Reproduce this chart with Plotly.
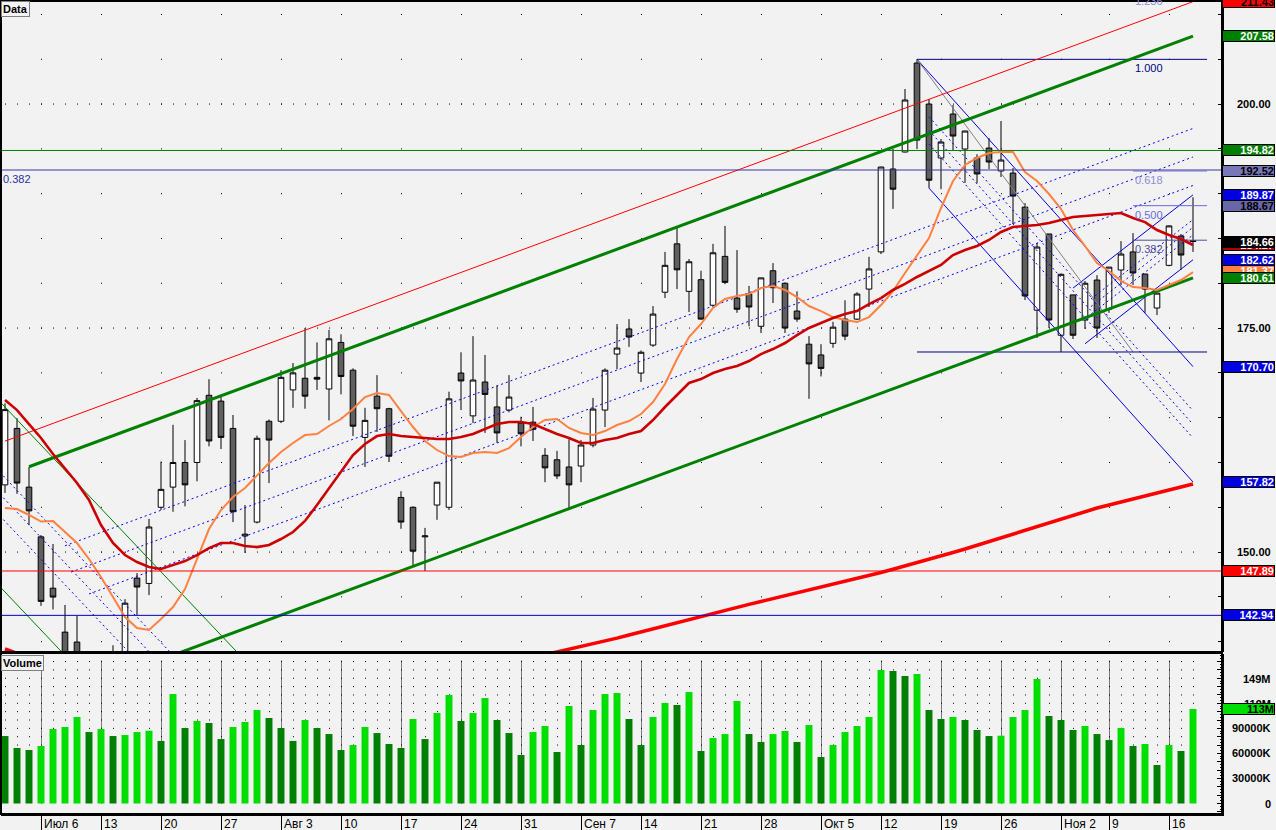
import plotly.graph_objects as go

# ---------------- data ----------------
week_idx = [3, 8, 13, 18, 23, 28, 33, 38, 43, 48, 53, 58, 63, 68, 73, 78, 83, 88, 92, 97]
week_labels = ['Июл 6', '13', '20', '27', 'Авг 3', '10', '17', '24', '31', 'Сен 7',
               '14', '21', '28', 'Окт 5', '12', '19', '26', 'Ноя 2', '9', '16']

opens = [157.5, 163.8, 157.25, 151.7, 145.97, 141.07, 139.96, 137.5, 134.8, 133.5,
         138.0, 147.1, 146.5, 155.0, 157.25, 160.0, 160.0, 167.5, 166.85, 163.8,
         151.8, 153.35, 164.6, 164.6, 168.1, 169.4, 169.5, 168.2, 173.4, 170.3,
         162.8, 167.4, 166.0, 156.1, 155.0, 151.7, 155.25, 155.0, 169.98, 165.2,
         168.98, 166.2, 165.85, 164.4, 164.5, 160.8, 160.3, 159.5, 159.6, 161.95,
         165.85, 172.1, 174.9, 169.98, 173.1, 179.0, 184.4, 179.1, 180.4, 177.55,
         183.0, 178.35, 178.8, 175.2, 181.4, 180.0, 176.9, 173.2, 172.0, 173.3,
         176.0, 176.0, 179.35, 183.5, 192.75, 194.65, 204.58, 200.0, 193.98, 198.89,
         194.98, 193.98, 195.09, 192.53, 192.3, 188.5, 177.0, 185.5, 174.2, 178.7,
         175.9, 180.36, 177.1, 181.48, 183.5, 181.03, 177.24, 182.0, 185.27, 184.75]
highs = [166.6, 164.95, 159.5, 151.9, 150.9, 144.1, 142.9, 138.5, 136.5, 139.6,
         144.75, 147.66, 153.7, 160.1, 164.2, 162.5, 167.2, 169.3, 167.5, 165.3,
         155.25, 163.0, 164.8, 170.3, 171.1, 175.0, 173.4, 174.8, 174.3, 170.5,
         166.1, 169.75, 166.1, 156.8, 155.1, 152.7, 157.8, 167.9, 172.3, 174.1,
         172.0, 168.6, 169.75, 165.1, 166.2, 161.6, 161.3, 162.6, 162.5, 167.2,
         170.5, 175.45, 176.0, 172.5, 177.45, 183.5, 186.2, 182.7, 181.4, 184.4,
         186.4, 183.7, 179.7, 180.6, 182.25, 180.1, 179.1, 174.1, 173.2, 175.7,
         178.1, 179.0, 182.95, 193.0, 194.98, 201.68, 204.99, 200.56, 196.1, 199.89,
         197.0, 194.4, 196.2, 198.1, 192.86, 188.95, 184.49, 185.5, 181.1, 178.7,
         180.25, 180.9, 181.8, 184.7, 185.6, 181.03, 178.9, 186.45, 185.5, 189.6]
lows = [156.6, 156.5, 153.0, 144.0, 143.6, 137.5, 136.5, 133.5, 132.0, 132.5,
        137.0, 142.97, 145.2, 154.7, 154.5, 155.1, 157.9, 161.8, 161.5, 153.35,
        149.9, 153.2, 157.7, 164.4, 166.1, 166.0, 168.1, 164.7, 167.6, 162.95,
        159.5, 163.4, 160.05, 152.6, 148.55, 147.89, 153.6, 154.7, 165.85, 164.4,
        163.3, 162.2, 165.6, 161.8, 162.4, 157.8, 158.15, 154.9, 157.8, 161.7,
        163.95, 170.4, 172.9, 168.98, 172.9, 178.35, 179.35, 176.8, 175.95, 177.5,
        179.9, 176.7, 175.2, 174.45, 177.8, 174.45, 175.7, 167.1, 169.6, 172.8,
        173.65, 175.9, 177.35, 183.26, 188.3, 194.6, 194.98, 190.62, 190.5, 194.87,
        191.19, 191.19, 192.75, 191.86, 186.6, 178.13, 173.9, 175.0, 172.33, 173.78,
        174.9, 173.9, 176.7, 179.8, 179.8, 176.7, 176.45, 181.9, 181.5, 183.5]
closes = [165.9, 157.7, 154.6, 144.5, 144.98, 138.5, 137.8, 134.5, 133.0, 137.0,
          144.3, 146.1, 152.8, 157.0, 160.0, 157.5, 166.9, 162.4, 162.8, 154.5,
          152.0, 162.7, 162.5, 169.5, 170.0, 167.4, 169.3, 173.8, 169.6, 164.05,
          164.7, 166.0, 160.7, 153.35, 150.1, 151.8, 157.8, 167.1, 169.1, 169.2,
          167.6, 163.3, 167.3, 163.2, 163.7, 159.4, 158.5, 157.5, 161.95, 165.96,
          170.3, 172.77, 174.0, 172.3, 176.56, 182.0, 181.5, 182.4, 176.0, 183.4,
          180.1, 177.1, 177.35, 180.6, 179.5, 175.0, 176.0, 171.0, 170.5, 175.1,
          174.1, 178.8, 181.6, 192.97, 190.5, 200.45, 195.98, 191.5, 195.76, 196.43,
          196.99, 192.2, 193.53, 193.75, 189.73, 178.58, 184.04, 175.9, 181.0, 174.2,
          180.0, 175.0, 181.8, 183.26, 181.15, 179.35, 178.9, 186.4, 183.15, 184.66]
volumes_m = [80.8, 66.5, 64.1, 68.9, 89.2, 91.6, 103.6, 85.6, 89.2, 80.8,
             82.0, 85.6, 87.2, 74.9, 131.1, 90.4, 98.8, 96.4, 77.2, 91.6,
             97.6, 112.0, 102.4, 90.4, 74.9, 100.0, 90.4, 83.2, 64.1, 70.1,
             91.6, 84.4, 71.3, 66.5, 101.2, 77.2, 108.4, 130.0, 98.8, 108.4,
             126.3, 100.0, 84.4, 58.1, 85.6, 92.8, 61.7, 116.8, 70.1, 112.0,
             131.1, 132.3, 101.2, 70.1, 103.6, 120.4, 118.0, 133.5, 62.9, 78.4,
             83.2, 122.8, 83.2, 73.7, 83.2, 86.8, 73.7, 94.0, 55.7, 70.1,
             85.6, 92.8, 103.6, 159.9, 158.7, 152.7, 155.1, 112.0, 101.2, 103.6,
             100.0, 88.0, 80.8, 81.2, 103.6, 112.0, 149.1, 104.8, 100.0, 88.0,
             92.8, 83.2, 76.0, 90.4, 68.9, 71.3, 46.1, 70.1, 62.9, 113.2]
ma_fast = [154.92, 154.81, 154.14, 153.41, 153.47, 152.24, 151.01, 149.23, 147.22, 144.98,
           142.75, 141.53, 141.30, 142.53, 143.87, 145.88, 149.23, 152.57, 154.69, 156.14,
           157.15, 158.60, 159.94, 161.17, 162.17, 163.06, 163.18, 164.07, 164.85, 165.97,
           167.30, 167.75, 167.53, 165.74, 163.96, 162.39, 161.39, 160.72, 160.61, 161.06,
           161.17, 161.06, 161.61, 162.84, 163.96, 164.74, 164.85, 163.85, 163.29, 163.06,
           163.51, 164.18, 164.63, 165.41, 166.75, 168.76, 171.55, 174.00, 175.45, 177.24,
           178.24, 178.58, 178.80, 179.47, 179.69, 179.25, 178.46, 177.46, 176.90, 176.23,
           175.90, 175.67, 176.23, 177.57, 179.13, 181.14, 183.15, 185.05, 188.40, 191.41,
           193.20, 193.98, 194.54, 194.65, 194.65, 192.41, 191.41, 189.96, 188.29, 185.94,
           184.16, 182.26, 181.37, 180.25, 179.58, 179.47, 179.25, 179.80, 180.36, 181.25]
ma_mid = [166.97, 165.85, 164.29, 162.73, 160.94, 159.38, 157.71, 155.81, 153.02, 151.01,
          149.67, 148.89, 148.33, 148.11, 148.56, 149.00, 149.67, 150.45, 151.01, 151.01,
          150.68, 150.56, 150.79, 151.46, 152.24, 153.47, 155.25, 157.15, 159.05, 160.83,
          162.06, 162.95, 163.18, 162.95, 162.84, 162.73, 162.62, 162.62, 162.84, 163.18,
          163.73, 164.29, 164.51, 164.51, 164.29, 163.73, 163.18, 162.73, 162.17, 162.17,
          162.51, 162.73, 163.18, 163.51, 164.74, 166.19, 167.53, 168.87, 169.31, 169.98,
          170.43, 170.76, 171.32, 172.10, 172.66, 173.33, 174.22, 175.01, 175.56, 176.12,
          176.57, 176.90, 177.68, 178.35, 179.25, 179.92, 180.70, 181.37, 182.04, 183.15,
          183.71, 184.16, 184.83, 185.72, 186.28, 186.39, 186.50, 186.72, 187.06, 187.39,
          187.50, 187.62, 187.73, 187.84, 187.28, 186.83, 185.94, 185.38, 184.94, 184.27]
ma_long = [139.2, 138.7, 138.2] + [None] * 42 + [
           138.55, 138.85, 139.14, 139.42, 139.70, 140.05,
           140.40, 140.75, 141.10, 141.45, 141.80, 142.15, 142.50, 142.85, 143.20, 143.53,
           143.85, 144.17, 144.48, 144.80, 145.10, 145.41, 145.72, 146.04, 146.35, 146.66,
           147.01, 147.37, 147.72, 148.08, 148.44, 148.82, 149.20, 149.58, 149.96, 150.34,
           150.76, 151.19, 151.61, 152.04, 152.46, 152.88, 153.31, 153.73, 154.16, 154.58,
           154.92, 155.25, 155.59, 155.92, 156.26, 156.59, 156.93, 157.26, 157.60]

# drawn tools: (bar index pair, price pair)
chan_upper_x, chan_upper_y = [2, 99], [159.52, 207.58]
chan_lower_x, chan_lower_y = [2, 99], [132.55, 180.61]
chan_red_x, chan_red_y = [0, 99], [162.38, 211.43]
chan_fib_start = [5, 5.5, 7]
dn_green_upper_x, dn_green_upper_y = [-1, 20], [167.6, 137.9]
dn_green_lower_x, dn_green_lower_y = [-1, 6], [146.96, 137.06]
fc_a_x, fc_a_y = [76, 99], [204.99, 170.70]
fc_b_x, fc_b_y = [77, 99], [190.62, 157.82]
up_c_x, up_c_y = [89, 99], [179.46, 189.87]
up_d_x, up_d_y = [90, 99], [173.25, 182.62]
gray_x, gray_y = [76, 94], [204.99, 172.33]
fib_low, fib_high = 172.33, 204.99
fib_ratios = [0.382, 0.5, 0.618]
h_levels = [194.82, 192.64, 147.89, 142.94]
h_colors = ['#008000', '#3838A8', '#FF0000', '#0000C8']

box_vals = [211.43, 207.58, 194.82, 192.52, 189.87, 188.67, 184.27, 184.66,
            181.37, 182.62, 180.61, 170.70, 157.82, 147.89, 142.94]
box_bg = ['#FF0000', '#008000', '#008000', '#7878B8', '#0000E0', '#6868A8', '#B00000', '#000000',
          '#FF7F40', '#0000E0', '#008000', '#0000E0', '#0000E0', '#FF0000', '#0000E0']
box_fg = ['black', 'white', 'white', 'black', 'white', 'black', 'white', 'white',
          'white', 'white', 'white', 'white', 'white', 'white', 'white']
price_ticks = [150, 175, 200]
vol_tick_vals = [0, 30, 60, 90, 119, 149]
vol_tick_text = ['0', '30000K', '60000K', '90000K', '119M', '149M']
vol_last = 113.2

# ---------------- geometry ----------------
W, H = 1276, 830
ML, MR, MT, MB = 1, 54, 1, 16
PH = H - MT - MB  # 813
PW = W - ML - MR  # 1221
HALF = 0.5 / 12   # half a pixel in bar units


def py(px):
    return (H - MB - px) / PH


def pxx(px):
    return (px - ML) / PW


XR = [-1 / 3, 101.4167]
n = len(closes)
idx = list(range(n))

fig = go.Figure()

fig.add_trace(go.Candlestick(
    x=idx, open=opens, high=highs, low=lows, close=closes,
    increasing=dict(line=dict(color='black', width=1), fillcolor='white'),
    decreasing=dict(line=dict(color='black', width=1), fillcolor='#5f5f5f'),
    whiskerwidth=0, xaxis='x', yaxis='y', showlegend=False, hoverinfo='skip'))


def line(xs, ys, color, width=1, dash='solid'):
    fig.add_trace(go.Scatter(x=xs, y=ys, mode='lines', xaxis='x', yaxis='y',
                             line=dict(color=color, width=width, dash=dash),
                             showlegend=False, hoverinfo='skip', connectgaps=False))


# descending thin green channel + fib dotted
g_slope = (dn_green_upper_y[1] - dn_green_upper_y[0]) / (dn_green_upper_x[1] - dn_green_upper_x[0])
g_off = dn_green_upper_y[0] - dn_green_lower_y[0]
for r in fib_ratios:
    xs = [-1, 15]
    ys = [dn_green_upper_y[0] + g_slope * (x + 1) - r * g_off for x in xs]
    line(xs, ys, '#0000FF', 1, '2px,3px')
line(dn_green_upper_x, dn_green_upper_y, '#008000', 1)
line(dn_green_lower_x, dn_green_lower_y, '#008000', 1)

# ascending channel fib dotted
u_slope = (chan_upper_y[1] - chan_upper_y[0]) / (chan_upper_x[1] - chan_upper_x[0])
u_off = chan_upper_y[1] - chan_lower_y[1]
for r, s in zip(fib_ratios, chan_fib_start):
    xs = [s, 99]
    ys = [chan_upper_y[0] + u_slope * (x - chan_upper_x[0]) - r * u_off for x in xs]
    line(xs, ys, '#0000FF', 1, '2px,3px')

# descending fib channel (a, b)
a_slope = (fc_a_y[1] - fc_a_y[0]) / (fc_a_x[1] - fc_a_x[0])
ab_off = fc_a_y[1] - fc_b_y[1]
for r in fib_ratios:
    xs = [77, 99]
    ys = [fc_a_y[0] + a_slope * (x - fc_a_x[0]) - r * ab_off for x in xs]
    line(xs, ys, '#0000FF', 1, '2px,3px')
line(fc_a_x, fc_a_y, '#0000E0', 1)
line(fc_b_x, fc_b_y, '#0000E0', 1)

# ascending small channel (c, d)
c_slope = (up_c_y[1] - up_c_y[0]) / (up_c_x[1] - up_c_x[0])
cd_off = up_c_y[1] - up_d_y[1]
for r in fib_ratios:
    xs = [90.5, 99]
    ys = [up_c_y[0] + c_slope * (x - up_c_x[0]) - r * cd_off for x in xs]
    line(xs, ys, '#0000FF', 1, '2px,3px')
line(up_c_x, up_c_y, '#0000E0', 1)
line(up_d_x, up_d_y, '#0000E0', 1)

line(gray_x, gray_y, '#808080', 1)

# fib retracement
fr = fib_high - fib_low
line([76, 100.17], [fib_high, fib_high], '#000080', 1)
line([76, 100.17], [fib_low, fib_low], '#000080', 1)
fib_cols = ['#505098', '#6A6AE0', '#8C8CD8']
for r, c in zip(fib_ratios, fib_cols):
    v = fib_low + r * fr
    line([94, 100.17], [v, v], c, 1)

# main channel
line(chan_red_x, chan_red_y, '#FF0000', 1)
line(chan_upper_x, chan_upper_y, '#008000', 3)
line(chan_lower_x, chan_lower_y, '#008000', 3)

# moving averages
line(idx, ma_long, '#FF0000', 3.5)
line(idx, ma_fast, '#FF8040', 2)
line(idx, ma_mid, '#CC0000', 2.6)

# volume
vol_colors = ['#008000'] + ['#00DD00' if volumes_m[i] >= volumes_m[i - 1] else '#008000'
                            for i in range(1, n)]
fig.add_trace(go.Bar(x=idx, y=[v * 1e6 for v in volumes_m], width=0.58,
                     marker=dict(color=vol_colors, line=dict(width=0)),
                     xaxis='x2', yaxis='y2', showlegend=False, hoverinfo='skip'))

shapes = []
# grid dots (main)
for lv in range(140, 211, 5):
    shapes.append(dict(type='line', xref='x', yref='y', x0=week_idx[0], x1=88.1, y0=lv, y1=lv,
                       line=dict(color='black', width=1, dash='1px,59px'), layer='below'))
    shapes.append(dict(type='line', xref='x', yref='y', x0=92, x1=97.1, y0=lv, y1=lv,
                       line=dict(color='black', width=1, dash='1px,59px'), layer='below'))
for lv in price_ticks:
    shapes.append(dict(type='line', xref='x', yref='y', x0=0, x1=99.1, y0=lv, y1=lv,
                       line=dict(color='black', width=1, dash='1px,11px'), layer='below'))
# grid dots (volume)
for k in range(1, 18):
    v = k * 10e6
    shapes.append(dict(type='line', xref='x2', yref='y2', x0=0, x1=99.1, y0=v, y1=v,
                       line=dict(color='black', width=1, dash='1px,11px'), layer='below'))
for w in week_idx:
    shapes.append(dict(type='line', xref='x2', yref='y2', x0=w + HALF, x1=w + HALF, y0=0, y1=171e6,
                       line=dict(color='black', width=1, dash='1px,1px'), layer='below'))
# horizontal full-width levels
for lv, c in zip(h_levels, h_colors):
    shapes.append(dict(type='line', xref='x domain', yref='y', x0=0, x1=1, y0=lv, y1=lv,
                       line=dict(color=c, width=1)))
# panel separator and borders
shapes.append(dict(type='rect', xref='paper', yref='paper', x0=0, x1=1, y0=py(654), y1=py(651),
                   fillcolor='black', line=dict(width=0)))
shapes.append(dict(type='rect', xref='paper', yref='paper', x0=0, x1=1, y0=0, y1=1,
                   line=dict(color='black', width=2)))

ann = []
FONT = 'Liberation Sans'
xr_lab = pxx(1273)
for v in price_ticks:
    ann.append(dict(xref='paper', yref='y', x=xr_lab, y=v, xanchor='right', yanchor='middle',
                    text='<b>%.2f</b>' % v, showarrow=False,
                    font=dict(family=FONT, size=11, color='black')))
for v, t in zip(vol_tick_vals, vol_tick_text):
    ann.append(dict(xref='paper', yref='y2', x=xr_lab, y=v * 1e6, xanchor='right', yanchor='middle',
                    text='<b>%s</b>' % t, showarrow=False,
                    font=dict(family=FONT, size=11, color='black')))
ann.append(dict(xref='paper', yref='y2', x=1, y=vol_last * 1e6, xanchor='left', yanchor='middle',
                text='<b>113M</b>', showarrow=False, width=51, height=10, align='right',
                bgcolor='#00DD00', bordercolor='black', borderwidth=1, borderpad=0,
                font=dict(family=FONT, size=11, color='black')))
for v, bg, fg in zip(box_vals, box_bg, box_fg):
    ann.append(dict(xref='paper', yref='y', x=1, y=v, xanchor='left', yanchor='middle',
                    text='<b>%.2f</b>' % v, showarrow=False, width=51, height=10, align='right',
                    bgcolor=bg, bordercolor='black', borderwidth=1, borderpad=0,
                    font=dict(family=FONT, size=11, color=fg)))
# fib labels
ann.append(dict(xref='x', yref='y', x=94, y=fib_high, xanchor='left', yanchor='top', yshift=-1,
                text='1.000', showarrow=False, font=dict(family=FONT, size=11, color='#000080')))
for r, c in zip(fib_ratios, fib_cols):
    ann.append(dict(xref='x', yref='y', x=94, y=fib_low + r * fr, xanchor='left', yanchor='top',
                    yshift=-1, text='%.3f' % r, showarrow=False,
                    font=dict(family=FONT, size=11, color=c)))
ann.append(dict(xref='x', yref='paper', x=94, y=py(-7), xanchor='left', yanchor='top',
                text='1.236', showarrow=False, font=dict(family=FONT, size=11, color='#8C8CD8')))
ann.append(dict(xref='paper', yref='y', x=0, y=h_levels[1], xanchor='left', yanchor='top',
                yshift=-1, text='0.382', showarrow=False,
                font=dict(family=FONT, size=11, color='#3030A0')))
# panel titles
ann.append(dict(xref='paper', yref='paper', x=0, y=1, xanchor='left', yanchor='top',
                text='<b>Data</b>', showarrow=False, bgcolor='#F4F4F4', bordercolor='#808080',
                borderwidth=1, borderpad=1, font=dict(family=FONT, size=11, color='black')))
ann.append(dict(xref='paper', yref='paper', x=0, y=py(655), xanchor='left', yanchor='top',
                text='<b>Volume</b>', showarrow=False, bgcolor='#F4F4F4', bordercolor='#808080',
                borderwidth=1, borderpad=1, font=dict(family=FONT, size=11, color='black')))
# date labels
for w, t in zip(week_idx, week_labels):
    ann.append(dict(xref='x2', yref='paper', x=w, y=py(815), xanchor='left', yanchor='top',
                    xshift=1, text=t, showarrow=False,
                    font=dict(family=FONT, size=12, color='black')))

fig.update_layout(
    width=W, height=H, margin=dict(l=ML, r=MR, t=MT, b=MB, pad=0),
    paper_bgcolor='#F2F2F2', plot_bgcolor='#F2F2F2', showlegend=False, hovermode=False,
    boxgap=0.33,
    xaxis=dict(domain=[0, 1], range=XR, anchor='y', showgrid=False, zeroline=False,
               showticklabels=False, ticks='', showline=False, rangeslider=dict(visible=False)),
    yaxis=dict(domain=[py(652), 1], range=[138.85, 211.5], side='right', anchor='x',
               showgrid=False, zeroline=False, showticklabels=False, ticks='inside', ticklen=4,
               tickcolor='black', tickmode='linear', tick0=0, dtick=5,
               showline=True, linecolor='black', linewidth=2),
    xaxis2=dict(domain=[0, 1], range=XR, anchor='y2', showgrid=False, zeroline=False,
                showticklabels=False, tickmode='array', tickvals=week_idx, ticks='outside',
                ticklen=16, tickcolor='black', tickwidth=1,
                showline=True, linecolor='black', linewidth=2),
    yaxis2=dict(domain=[0, py(654)], range=[-12.57e6, 179.04e6], side='right', anchor='x2',
                showgrid=False, zeroline=False, showticklabels=False, ticks='inside', ticklen=5,
                tickcolor='black', tickmode='linear', tick0=0, dtick=10e6,
                minor=dict(ticks='inside', ticklen=2, tickcolor='black', dtick=10e6 / 3),
                showline=True, linecolor='black', linewidth=2),
    shapes=shapes, annotations=ann,
)

fig.write_html('out.html', config={'displayModeBar': False},
               post_script="document.body.style.margin='0px';document.body.style.overflow='hidden';")
